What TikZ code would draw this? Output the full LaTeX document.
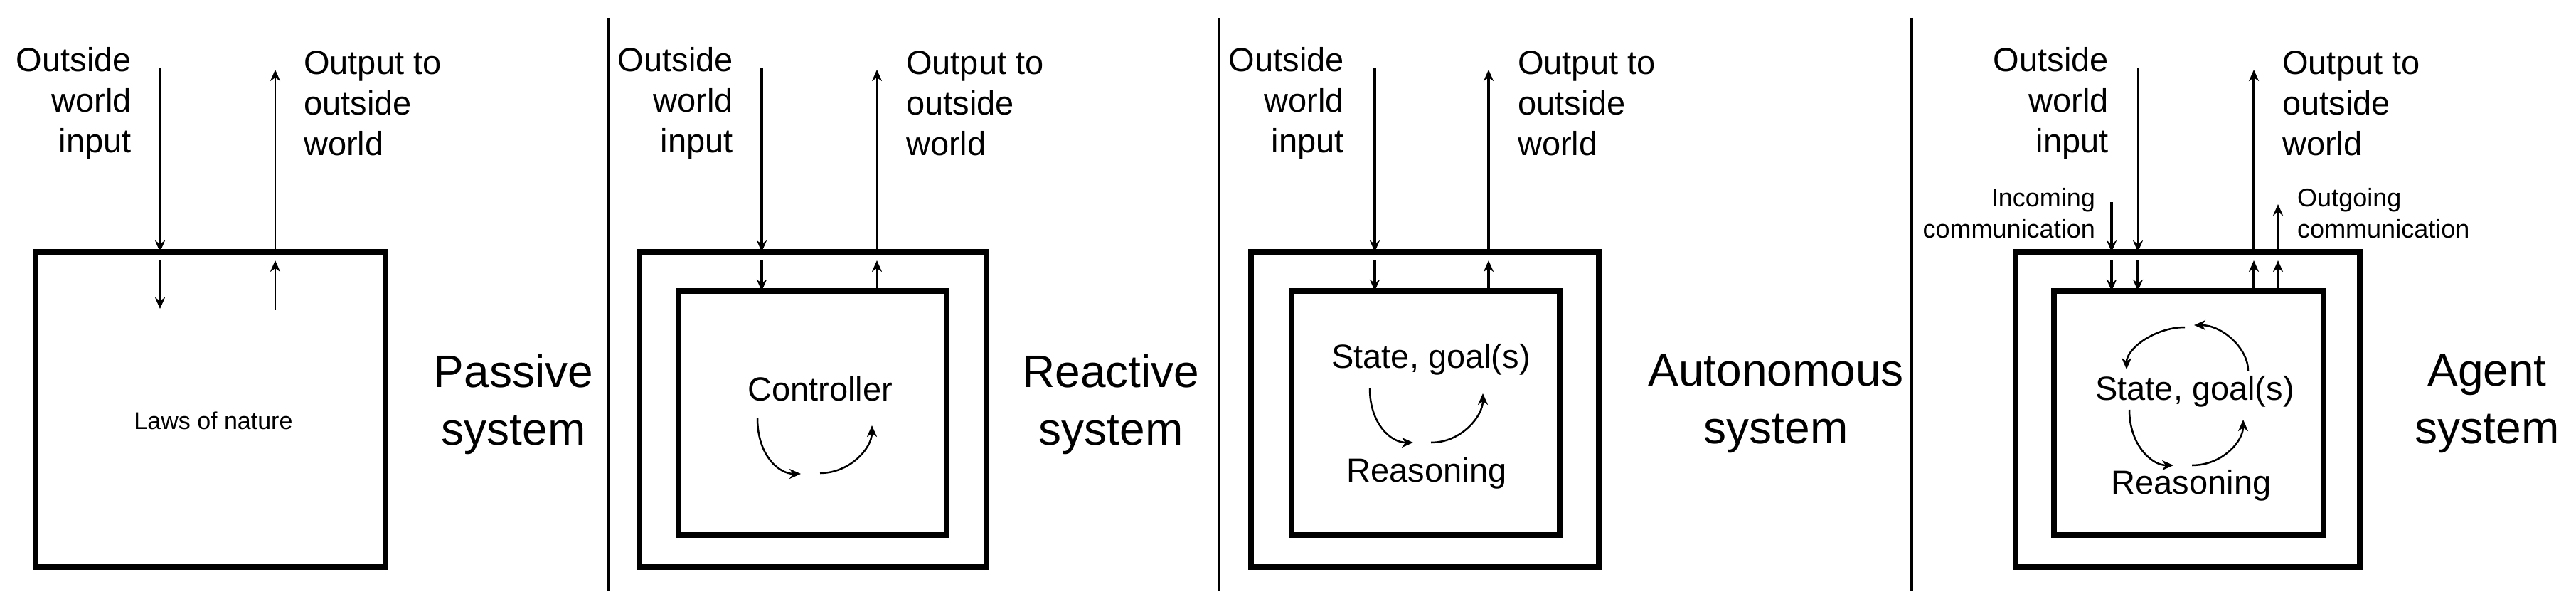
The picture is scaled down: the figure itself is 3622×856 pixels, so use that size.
\documentclass[tikz,border=0pt]{standalone}
\usepackage{fontspec}
\setmainfont{Liberation Sans}
\usetikzlibrary{arrows.meta}
\begin{document}
\begin{tikzpicture}[x=1pt,y=-1pt,
  box/.style={draw,line width=8pt,inner sep=0pt},
  ar/.style={line width=3.5pt,-{Stealth[length=16pt,width=14pt,inset=5pt]}},
  thin ar/.style={ar,line width=2.5pt},
  sep/.style={line width=4pt},
  lbl/.style={font=\fontsize{47}{57}\selectfont,inner sep=0pt},
  title/.style={font=\fontsize{64}{81}\selectfont,align=center,inner sep=0pt},
  small/.style={font=\fontsize{34}{40}\selectfont,inner sep=0pt},
  comm/.style={font=\fontsize{36}{44}\selectfont,inner sep=0pt}]
\useasboundingbox (0,0) rectangle (3622,856);
% separators
\coordinate (s1a) at (855,25); \coordinate (s1b) at (855,830);
\coordinate (s2a) at (1714,25); \coordinate (s2b) at (1714,830);
\coordinate (s3a) at (2688,25); \coordinate (s3b) at (2688,830);
\draw[sep] (s1a)--(s1b); \draw[sep] (s2a)--(s2b); \draw[sep] (s3a)--(s3b);

% ---------- Panel 1
\node[box,minimum width=492pt,minimum height=443pt] (b1) at (296,575.5) {};
\node[small] (law) at (300,591) {Laws of nature};
\node[lbl,align=right,anchor=east] (in1t) at (185,145) {Outside\\world\\input};
\node[lbl,align=left,anchor=west] (out1t) at (427,145) {Output to\\outside\\world};
\node[title] (t1) at (722,568) {Passive\\system};
\coordinate (i1a) at (225,96); \coordinate (i1b) at (225,354);
\coordinate (i1c) at (225,365); \coordinate (i1d) at (225,434);
\coordinate (o1a) at (387,354); \coordinate (o1b) at (387,98);
\coordinate (o1c) at (387,436); \coordinate (o1d) at (387,366);
\draw[ar] (i1a)--(i1b); \draw[ar] (i1c)--(i1d);
\draw[thin ar] (o1a)--(o1b); \draw[thin ar] (o1c)--(o1d);

% ---------- Panel 2
\node[box,minimum width=488pt,minimum height=443pt] (b2) at (1143,575.5) {};
\node[box,minimum width=377pt,minimum height=343pt] (c2) at (1142.5,580.5) {};
\node[lbl] (ctl) at (1153,547) {Controller};
\node[lbl,align=right,anchor=east] (in2t) at (1031,145) {Outside\\world\\input};
\node[lbl,align=left,anchor=west] (out2t) at (1274,145) {Output to\\outside\\world};
\node[title] (t2) at (1562,568) {Reactive\\system};
\coordinate (i2a) at (1071,96); \coordinate (i2b) at (1071,354);
\coordinate (i2c) at (1071,365); \coordinate (i2d) at (1071,409);
\coordinate (o2a) at (1233,354); \coordinate (o2b) at (1233,98);
\coordinate (o2c) at (1233,409); \coordinate (o2d) at (1233,366);
\draw[ar] (i2a)--(i2b); \draw[ar] (i2c)--(i2d);
\draw[thin ar] (o2a)--(o2b); \draw[thin ar] (o2c)--(o2d);
\coordinate (a2a) at (1065,588); \coordinate (a2b) at (1126,666);
\coordinate (a2c) at (1153,665); \coordinate (a2d) at (1226,598);
\draw[thin ar] (a2a) .. controls (1065,640) and (1095,666) .. (a2b);
\draw[thin ar] (a2c) .. controls (1195,665) and (1226,630) .. (a2d);

% ---------- Panel 3
\node[box,minimum width=489pt,minimum height=443pt] (b3) at (2003.5,575.5) {};
\node[box,minimum width=377pt,minimum height=343pt] (c3) at (2004.5,580.5) {};
\node[lbl] (st3) at (2012,505) {State, goal(s)};
\node[lbl] (re3) at (2006,665) {Reasoning};
\node[lbl,align=right,anchor=east] (in3t) at (1890,145) {Outside\\world\\input};
\node[lbl,align=left,anchor=west] (out3t) at (2134,145) {Output to\\outside\\world};
\node[title] (t3) at (2497,568) {Autonomous\\system};
\coordinate (i3a) at (1933,96); \coordinate (i3b) at (1933,354);
\coordinate (i3c) at (1933,365); \coordinate (i3d) at (1933,409);
\coordinate (o3a) at (2093,354); \coordinate (o3b) at (2093,98);
\coordinate (o3c) at (2093,409); \coordinate (o3d) at (2093,366);
\draw[ar] (i3a)--(i3b); \draw[ar] (i3c)--(i3d);
\draw[ar] (o3a)--(o3b); \draw[ar] (o3c)--(o3d);
\coordinate (a3a) at (1926,546); \coordinate (a3b) at (1987,622);
\coordinate (a3c) at (2012,622); \coordinate (a3d) at (2085,553);
\draw[thin ar] (a3a) .. controls (1926,595) and (1955,622) .. (a3b);
\draw[thin ar] (a3c) .. controls (2055,622) and (2085,585) .. (a3d);

% ---------- Panel 4
\node[box,minimum width=484pt,minimum height=443pt] (b4) at (3076,575.5) {};
\node[box,minimum width=379pt,minimum height=343pt] (c4) at (3077.5,580.5) {};
\node[lbl] (st4) at (3086,550) {State, goal(s)};
\node[lbl] (re4) at (3081,682) {Reasoning};
\node[lbl,align=right,anchor=east] (in4t) at (2965,145) {Outside\\world\\input};
\node[lbl,align=left,anchor=west] (out4t) at (3209,145) {Output to\\outside\\world};
\node[comm,align=right,anchor=east] (inc) at (2946,300) {Incoming\\communication};
\node[comm,align=left,anchor=west] (outc) at (3230,300) {Outgoing\\communication};
\node[title] (t4) at (3497,568) {Agent\\system};
\coordinate (i4a) at (3006,96); \coordinate (i4b) at (3006,354);
\coordinate (i4c) at (3006,365); \coordinate (i4d) at (3006,409);
\coordinate (k4a) at (2969,284); \coordinate (k4b) at (2969,354);
\coordinate (k4c) at (2969,365); \coordinate (k4d) at (2969,409);
\coordinate (o4a) at (3169,354); \coordinate (o4b) at (3169,98);
\coordinate (o4c) at (3169,409); \coordinate (o4d) at (3169,366);
\coordinate (g4a) at (3203,354); \coordinate (g4b) at (3203,287);
\coordinate (g4c) at (3203,409); \coordinate (g4d) at (3203,366);
\draw[thin ar] (i4a)--(i4b); \draw[ar] (i4c)--(i4d);
\draw[ar] (k4a)--(k4b); \draw[ar] (k4c)--(k4d);
\draw[ar] (o4a)--(o4b); \draw[ar] (o4c)--(o4d);
\draw[ar] (g4a)--(g4b); \draw[ar] (g4c)--(g4d);
\coordinate (a4a) at (3072,460); \coordinate (a4b) at (2990,519);
\coordinate (a4c) at (3161,521); \coordinate (a4d) at (3085,457);
\coordinate (a4e) at (2994,576); \coordinate (a4f) at (3056,654);
\coordinate (a4g) at (3082,654); \coordinate (a4h) at (3154,590);
\draw[thin ar] (a4a) .. controls (3030,460) and (2990,490) .. (a4b);
\draw[thin ar] (a4c) .. controls (3161,490) and (3125,457) .. (a4d);
\draw[thin ar] (a4e) .. controls (2994,625) and (3025,654) .. (a4f);
\draw[thin ar] (a4g) .. controls (3125,654) and (3154,620) .. (a4h);
\end{tikzpicture}
\end{document}
